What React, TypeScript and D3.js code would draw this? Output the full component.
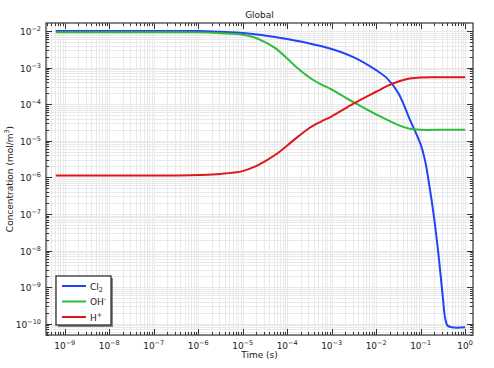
import React, { useRef, useEffect } from 'react';
import * as d3 from 'd3';

// time (s) and concentration (mol/m^3)
const cl2Time = [6.3e-10, 1e-7, 1e-6, 3.16e-6, 1e-5, 3.16e-5, 1e-4, 3.16e-4, 1e-3, 3.16e-3, 1e-2, 1.78e-2, 3.16e-2, 5.62e-2, 0.1, 0.126, 0.158, 0.2, 0.251, 0.316, 0.355, 0.398, 0.501, 1.0];
const cl2Conc = [1e-2, 1e-2, 1e-2, 9.55e-3, 8.91e-3, 7.59e-3, 6.03e-3, 4.57e-3, 3.24e-3, 1.91e-3, 8.51e-4, 5.01e-4, 2.0e-4, 3.98e-5, 7.94e-6, 2.82e-6, 5.62e-7, 7.94e-8, 7.94e-9, 5.01e-10, 1.41e-10, 8.91e-11, 7.94e-11, 7.94e-11];

const ohTime = [6.3e-10, 1e-7, 3.16e-7, 1e-6, 3.16e-6, 1e-5, 1.78e-5, 3.16e-5, 5.62e-5, 1e-4, 1.78e-4, 3.16e-4, 5.62e-4, 1e-3, 3.16e-3, 1e-2, 3.16e-2, 5.62e-2, 0.1, 0.316, 1.0];
const ohConc = [9.33e-3, 9.33e-3, 9.3e-3, 9.2e-3, 8.71e-3, 7.94e-3, 6.76e-3, 5.01e-3, 3.31e-3, 1.78e-3, 9.33e-4, 5.37e-4, 3.55e-4, 2.51e-4, 1.12e-4, 5.25e-5, 2.69e-5, 2.14e-5, 2.0e-5, 2.0e-5, 2.0e-5];

const hTime = [6.3e-10, 1e-7, 3.16e-7, 1e-6, 3.16e-6, 1e-5, 1.78e-5, 3.16e-5, 5.62e-5, 1e-4, 1.78e-4, 3.16e-4, 5.62e-4, 1e-3, 3.16e-3, 1e-2, 1.78e-2, 3.16e-2, 5.62e-2, 0.1, 0.316, 1.0];
const hConc = [1.12e-6, 1.12e-6, 1.13e-6, 1.16e-6, 1.24e-6, 1.48e-6, 1.91e-6, 2.75e-6, 4.27e-6, 7.41e-6, 1.32e-5, 2.24e-5, 3.31e-5, 4.68e-5, 1.05e-4, 2.19e-4, 3.16e-4, 4.17e-4, 5.01e-4, 5.37e-4, 5.43e-4, 5.43e-4];

const xTickExps = [-9, -8, -7, -6, -5, -4, -3, -2, -1, 0];
const yTickExps = [-10, -9, -8, -7, -6, -5, -4, -3, -2];

const series = [
    { name: 'Cl', sub: '2', sup: '', color: '#2343f5', time: cl2Time, conc: cl2Conc },
    { name: 'OH', sub: '', sup: '-', color: '#2fbb3c', time: ohTime, conc: ohConc },
    { name: 'H', sub: '', sup: '+', color: '#dc1a1a', time: hTime, conc: hConc },
];

const width = 494;
const height = 368;
const margin = { top: 23, right: 21, bottom: 33, left: 46 };
const font = 'DejaVu Sans, sans-serif';

const App = () => {
    const ref = useRef<SVGSVGElement>(null);

    useEffect(() => {
        const svg = d3.select(ref.current);
        svg.selectAll('*').remove();

        const x = d3.scaleLog().domain([3.8e-10, 1.5]).range([margin.left, width - margin.right]);
        const y = d3.scaleLog().domain([1.66e-2, 4.9e-11]).range([margin.top, height - margin.bottom]);

        const [x0, x1] = x.range();
        const [y0, y1] = y.range();

        const minor = (exps: number[], dom: number[]) => {
            const lo = Math.min(dom[0], dom[1]);
            const hi = Math.max(dom[0], dom[1]);
            const out: { v: number; major: boolean }[] = [];
            for (let k = exps[0] - 1; k <= exps[exps.length - 1] + 1; k++) {
                for (let m = 1; m <= 9; m++) {
                    const v = m * Math.pow(10, k);
                    if (v >= lo && v <= hi) out.push({ v, major: m === 1 });
                }
            }
            return out;
        };
        const xt = minor(xTickExps, x.domain());
        const yt = minor(yTickExps, y.domain());

        // grid
        const grid = svg.append('g').attr('stroke', '#e9e9e9').attr('stroke-width', 1);
        grid.selectAll('.gx').data(xt).join('line')
            .attr('x1', d => Math.round(x(d.v)) + 0.5).attr('x2', d => Math.round(x(d.v)) + 0.5)
            .attr('y1', y0).attr('y2', y1);
        grid.selectAll('.gy').data(yt).join('line')
            .attr('y1', d => Math.round(y(d.v)) + 0.5).attr('y2', d => Math.round(y(d.v)) + 0.5)
            .attr('x1', x0).attr('x2', x1);

        // curves
        const line = d3.line<[number, number]>()
            .x(d => x(d[0]))
            .y(d => y(d[1]))
            .curve(d3.curveCatmullRom.alpha(0.5));
        svg.append('g').selectAll('path').data(series).join('path')
            .attr('fill', 'none')
            .attr('stroke', d => d.color)
            .attr('stroke-width', 2)
            .attr('stroke-linejoin', 'round')
            .attr('d', d => line(d.time.map((t, i) => [t, d.conc[i]] as [number, number])));

        // ticks, inside on all four sides
        const ticks = svg.append('g').attr('stroke', '#333').attr('stroke-width', 1);
        xt.forEach(d => {
            const px = Math.round(x(d.v)) + 0.5;
            const len = d.major ? 6 : 3;
            ticks.append('line').attr('x1', px).attr('x2', px).attr('y1', y1).attr('y2', y1 - len);
            ticks.append('line').attr('x1', px).attr('x2', px).attr('y1', y0).attr('y2', y0 + len);
        });
        yt.forEach(d => {
            const py = Math.round(y(d.v)) + 0.5;
            const len = d.major ? 6 : 3;
            ticks.append('line').attr('y1', py).attr('y2', py).attr('x1', x0).attr('x2', x0 + len);
            ticks.append('line').attr('y1', py).attr('y2', py).attr('x1', x1).attr('x2', x1 - len);
        });

        // frame
        svg.append('rect')
            .attr('x', x0).attr('y', y0).attr('width', x1 - x0).attr('height', y1 - y0)
            .attr('fill', 'none').attr('stroke', '#444').attr('stroke-width', 1.3);

        // tick labels
        const labels = svg.append('g').attr('font-family', font).attr('font-size', 9).attr('fill', '#222');
        xTickExps.forEach(e => {
            const t = labels.append('text').attr('x', x(Math.pow(10, e))).attr('y', 349).attr('text-anchor', 'middle');
            t.append('tspan').text('10');
            t.append('tspan').attr('dy', -4).attr('font-size', 6.5).text(String(e).replace('-', '\u2212'));
        });
        yTickExps.forEach(e => {
            const t = labels.append('text').attr('x', 41).attr('y', y(Math.pow(10, e)) + 4).attr('text-anchor', 'end');
            t.append('tspan').text('10');
            t.append('tspan').attr('dy', -4).attr('font-size', 6.5).text(String(e).replace('-', '\u2212'));
        });

        // titles
        svg.append('text').attr('x', (x0 + x1) / 2).attr('y', 18).attr('text-anchor', 'middle')
            .attr('font-family', font).attr('font-size', 9).attr('fill', '#222').text('Global');
        svg.append('text').attr('x', (x0 + x1) / 2).attr('y', 358).attr('text-anchor', 'middle')
            .attr('font-family', font).attr('font-size', 9).attr('fill', '#222').text('Time (s)');
        const yl = svg.append('text')
            .attr('transform', `translate(13,${(y0 + y1) / 2}) rotate(-90)`)
            .attr('text-anchor', 'middle')
            .attr('font-family', font).attr('font-size', 9).attr('fill', '#222');
        yl.append('tspan').text('Concentration (mol/m');
        yl.append('tspan').attr('dy', -4).attr('font-size', 6.5).text('3');
        yl.append('tspan').attr('dy', 4).text(')');

        // legend
        const lg = svg.append('g').attr('transform', 'translate(56,276)');
        lg.append('rect').attr('x', 2).attr('y', 2).attr('width', 55).attr('height', 49).attr('fill', '#888');
        lg.append('rect').attr('x', 0).attr('y', 0).attr('width', 55).attr('height', 49)
            .attr('fill', '#fff').attr('stroke', '#222').attr('stroke-width', 1.2);
        series.forEach((s, i) => {
            const ly = 10 + i * 15.5;
            lg.append('line').attr('x1', 6).attr('x2', 30).attr('y1', ly).attr('y2', ly)
                .attr('stroke', s.color).attr('stroke-width', 2);
            const t = lg.append('text').attr('x', 34).attr('y', ly + 3.5)
                .attr('font-family', font).attr('font-size', 9).attr('fill', '#222');
            t.append('tspan').text(s.name);
            if (s.sub) t.append('tspan').attr('dy', 2.5).attr('font-size', 6.5).text(s.sub);
            if (s.sup) t.append('tspan').attr('dy', -4).attr('font-size', 6.5).text(s.sup);
        });
    }, []);

    return (
        <svg
            ref={ref}
            width={width}
            height={height}
            style={{ position: 'absolute', left: 0, top: 0, background: '#fff' }}
        />
    );
};

export default App;
